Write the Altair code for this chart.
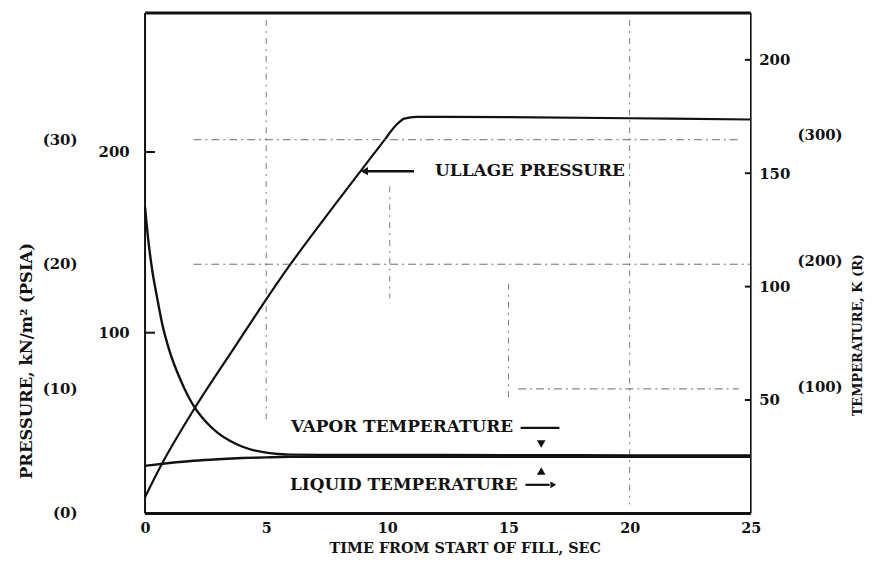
import altair as alt
import pandas as pd

# ---------------- data ----------------
ullage_time = [0, 0.6, 1.9, 3.5, 5.9, 7.9, 9.9, 10.3, 10.7, 11.2, 15, 20, 25]
ullage_kpa = [9, 25, 55, 88, 136, 172, 207, 214, 218.5, 219.5, 219.3, 218.7, 218]

vapor_time = [0, 0.15, 0.3, 0.5, 0.7, 1.0, 1.5, 2.0, 2.5, 3.0, 3.5, 4.0, 4.5, 5.0, 5.5, 6, 8, 10, 15, 20, 25]
vapor_k = [135, 119, 107, 95, 84, 72, 58, 47.5, 40.5, 35.5, 32, 29.5, 27.8, 26.8, 26.2, 25.9, 25.8, 25.8, 25.7, 25.6, 25.6]

liquid_time = [0, 1, 2, 3, 4, 5, 6, 8, 10, 15, 20, 25]
liquid_k = [21, 22.2, 23.2, 23.9, 24.4, 24.7, 24.9, 25.0, 25.0, 25.0, 25.0, 25.0]

x_ticks = [0, 5, 10, 15, 20, 25]
kpa_ticks = [100, 200]
psia_ticks = [0, 10, 20, 30]
k_ticks = [50, 100, 150, 200]
rankine_ticks = [100, 200, 300]

# faint dash-dot grid remnants (time from, time to, pressure kPa)
hgrid_t1 = [2.0, 2.0, 15.4]
hgrid_t2 = [24.5, 25.0, 24.5]
hgrid_p = [206.8, 137.9, 68.9]
# vertical (time, pressure from, pressure to)
vgrid_t = [5.0, 10.1, 15.0, 20.0]
vgrid_p1 = [273, 181, 127, 273]
vgrid_p2 = [50, 119, 64, 5]

# annotations
ullage_label = {"t": 11.97, "p": 189.4, "text": "ULLAGE PRESSURE"}
ullage_arrow = {"t1": 9.2, "t2": 11.1, "p": 189.4, "head": 9.05}
vapor_label = {"t": 6.02, "T": 38.0, "text": "VAPOR TEMPERATURE"}
vapor_dash = {"t1": 15.5, "t2": 17.1, "T": 37.7}
liquid_label = {"t": 5.98, "T": 12.6, "text": "LIQUID TEMPERATURE"}
liquid_arrow = {"t1": 15.7, "t2": 16.7, "T": 12.6, "head": 16.85}
wedge_t = [16.35, 16.35]
wedge_T = [30.6, 18.7]
wedge_shape = ["triangle-down", "triangle-up"]

# ---------------- layout / style ----------------
W, H = 610, 504
P_MAX = 277.0
T_MAX = 220.7
FONT = "DejaVu Serif"
INK = "#111111"
ANN = 17

xs = alt.Scale(domain=[0, 25], nice=False, zero=False)
ps = alt.Scale(domain=[0, P_MAX], nice=False, zero=False)
ts = alt.Scale(domain=[0, T_MAX], nice=False, zero=False)

common_axis = dict(labelFont=FONT, labelFontSize=15, labelFontWeight="bold", labelColor=INK,
                   ticks=False, domain=False, grid=False,
                   titleFont=FONT, titleFontWeight="bold", titleColor=INK)

x_axis = alt.Axis(values=x_ticks, title="TIME FROM START OF FILL, SEC", labelPadding=8,
                  labelFlush=False, titleFontSize=14.5, titleX=322, titleY=35,
                  titleAlign="center", titleBaseline="middle",
                  **{**common_axis, "labelFontSize": 14.5})
p_axis = alt.Axis(values=kpa_ticks, orient="left", title="PRESSURE, kN/m² (PSIA)",
                  labelPadding=16, titleFontSize=16.5, titleAngle=270, titleX=-119, titleY=350,
                  titleAlign="center", titleBaseline="middle", **common_axis)
t_axis = alt.Axis(values=k_ticks, orient="right", title="TEMPERATURE, K (R)",
                  labelPadding=8, titleFontSize=13, titleAngle=270, titleX=107, titleY=324,
                  titleAlign="center", titleBaseline="middle", **common_axis)


def X(field):
    # every layer carries the same x axis definition so the shared axis merges cleanly
    return alt.X(field, scale=xs, axis=x_axis)


# ---------------- pressure layers ----------------
ullage_df = pd.DataFrame({"t": ullage_time, "p": ullage_kpa})
ullage_line = alt.Chart(ullage_df).mark_line(color=INK, strokeWidth=2.2, interpolate="monotone").encode(
    x=X("t:Q"),
    y=alt.Y("p:Q", scale=ps, axis=p_axis),
)

psia_df = pd.DataFrame({"p": [v * 6.894757 for v in psia_ticks],
                        "label": [f"({v})" for v in psia_ticks]})
psia_text = alt.Chart(psia_df).mark_text(font=FONT, fontSize=15, fontWeight="bold", color=INK,
                                         align="right", baseline="middle").encode(
    x=alt.value(-68), y=alt.Y("p:Q", scale=ps, axis=None), text="label:N")

left_ticks = alt.Chart(pd.DataFrame({"p": kpa_ticks})).mark_rule(color=INK, strokeWidth=2).encode(
    x=alt.value(0), x2=alt.value(10), y=alt.Y("p:Q", scale=ps, axis=None))

hgrid_df = pd.DataFrame({"t1": hgrid_t1, "t2": hgrid_t2, "p": hgrid_p})
hgrid = alt.Chart(hgrid_df).mark_rule(color="#444444", strokeWidth=1, strokeDash=[8, 4, 2, 4], opacity=0.8).encode(
    x=X("t1:Q"), x2="t2:Q", y=alt.Y("p:Q", scale=ps, axis=None))

vgrid_df = pd.DataFrame({"t": vgrid_t, "p1": vgrid_p1, "p2": vgrid_p2})
vgrid = alt.Chart(vgrid_df).mark_rule(color="#444444", strokeWidth=1, strokeDash=[6, 5, 2, 5], opacity=0.7).encode(
    x=X("t:Q"), y=alt.Y("p1:Q", scale=ps, axis=None), y2="p2:Q")

ul_text = alt.Chart(pd.DataFrame([ullage_label])).mark_text(
    font=FONT, fontSize=ANN, fontWeight="bold", color=INK, align="left", baseline="middle").encode(
    x=X("t:Q"), y=alt.Y("p:Q", scale=ps, axis=None), text="text:N")
ul_arrow = alt.Chart(pd.DataFrame([ullage_arrow])).mark_rule(color=INK, strokeWidth=2.5).encode(
    x=X("t1:Q"), x2="t2:Q", y=alt.Y("p:Q", scale=ps, axis=None))
ul_head = alt.Chart(pd.DataFrame([ullage_arrow])).mark_point(
    shape="triangle-left", filled=True, size=70, color=INK, opacity=1).encode(
    x=X("head:Q"), y=alt.Y("p:Q", scale=ps, axis=None))

frame_df = pd.DataFrame({"k": [0]})
frame_top = alt.Chart(frame_df).mark_rule(color=INK, strokeWidth=3).encode(
    x=alt.value(0), x2=alt.value(W), y=alt.value(0))
frame_bottom = alt.Chart(frame_df).mark_rule(color=INK, strokeWidth=3).encode(
    x=alt.value(0), x2=alt.value(W), y=alt.value(H))
frame_left = alt.Chart(frame_df).mark_rule(color=INK, strokeWidth=2).encode(
    x=alt.value(0), y=alt.value(0), y2=alt.value(H))
frame_right = alt.Chart(frame_df).mark_rule(color=INK, strokeWidth=1.6).encode(
    x=alt.value(W), y=alt.value(0), y2=alt.value(H))

# ---------------- temperature layers ----------------
temp_df = pd.concat([
    pd.DataFrame({"t": vapor_time, "T": vapor_k, "series": "vapor"}),
    pd.DataFrame({"t": liquid_time, "T": liquid_k, "series": "liquid"}),
])
temp_lines = alt.Chart(temp_df).mark_line(color=INK, strokeWidth=2.4, interpolate="monotone").encode(
    x=X("t:Q"),
    y=alt.Y("T:Q", scale=ts, axis=t_axis),
    detail="series:N",
)

r_df = pd.DataFrame({"T": [v * 5.0 / 9.0 for v in rankine_ticks],
                     "label": [f"({v})" for v in rankine_ticks]})
r_text = alt.Chart(r_df).mark_text(font=FONT, fontSize=15, fontWeight="bold", color=INK,
                                   align="left", baseline="middle").encode(
    x=alt.value(W + 47), y=alt.Y("T:Q", scale=ts, axis=None), text="label:N")

right_ticks = alt.Chart(pd.DataFrame({"T": k_ticks})).mark_rule(color=INK, strokeWidth=2).encode(
    x=alt.value(W - 6), x2=alt.value(W), y=alt.Y("T:Q", scale=ts, axis=None))

vap_text = alt.Chart(pd.DataFrame([vapor_label])).mark_text(
    font=FONT, fontSize=ANN, fontWeight="bold", color=INK, align="left", baseline="middle").encode(
    x=X("t:Q"), y=alt.Y("T:Q", scale=ts, axis=None), text="text:N")
vap_dash = alt.Chart(pd.DataFrame([vapor_dash])).mark_rule(color=INK, strokeWidth=2.2).encode(
    x=X("t1:Q"), x2="t2:Q", y=alt.Y("T:Q", scale=ts, axis=None))

liq_text = alt.Chart(pd.DataFrame([liquid_label])).mark_text(
    font=FONT, fontSize=ANN, fontWeight="bold", color=INK, align="left", baseline="middle").encode(
    x=X("t:Q"), y=alt.Y("T:Q", scale=ts, axis=None), text="text:N")
liq_arrow = alt.Chart(pd.DataFrame([liquid_arrow])).mark_rule(color=INK, strokeWidth=2.2).encode(
    x=X("t1:Q"), x2="t2:Q", y=alt.Y("T:Q", scale=ts, axis=None))
liq_head = alt.Chart(pd.DataFrame([liquid_arrow])).mark_point(
    shape="triangle-right", filled=True, size=45, color=INK, opacity=1).encode(
    x=X("head:Q"), y=alt.Y("T:Q", scale=ts, axis=None))

wedge_df = pd.DataFrame({"t": wedge_t, "T": wedge_T, "shape": wedge_shape})
wedges = alt.Chart(wedge_df).mark_point(filled=True, size=75, color=INK, opacity=1).encode(
    x=X("t:Q"), y=alt.Y("T:Q", scale=ts, axis=None),
    shape=alt.Shape("shape:N", scale=None, legend=None))

# All layers flat; y scales independent but with fixed domains so they line up.
chart = alt.layer(
    ullage_line, temp_lines,
    psia_text, left_ticks, hgrid, vgrid, ul_text, ul_arrow, ul_head,
    r_text, right_ticks, vap_text, vap_dash, liq_text, liq_arrow, liq_head, wedges,
    frame_top, frame_bottom, frame_left, frame_right,
).resolve_scale(y="independent").properties(
    width=W, height=H,
    padding={"left": 138, "top": 3, "right": 118, "bottom": 44},
    autosize=alt.AutoSizeParams(type="none"),
    background="white",
).configure_view(stroke=None)

chart.save("out.html", embed_options={"renderer": "svg", "actions": False})
